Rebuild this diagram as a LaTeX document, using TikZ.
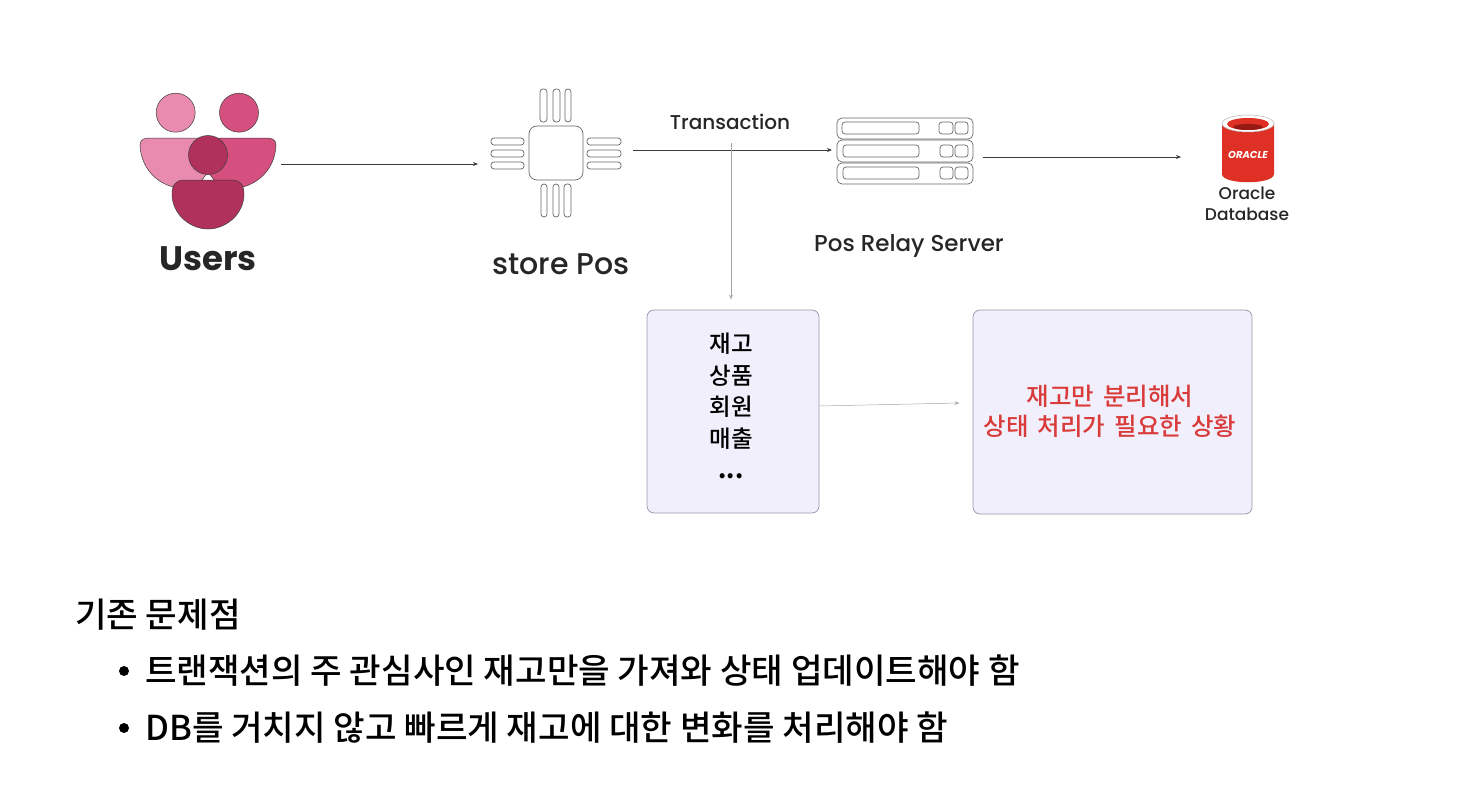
\documentclass[tikz,border=0pt]{standalone}
\usepackage{fontspec}
\setmainfont{Noto Sans CJK KR Medium}
\newfontfamily\handfont{Poppins Medium}
\newfontfamily\handbold{Poppins}
\usetikzlibrary{positioning,arrows.meta}
\definecolor{userlight}{RGB}{233,139,174}
\definecolor{usermid}{RGB}{213,80,127}
\definecolor{userdark}{RGB}{176,50,92}
\definecolor{sketch}{RGB}{60,60,60}
\definecolor{oracle}{RGB}{222,48,36}
\definecolor{oracledark}{RGB}{150,25,20}
\definecolor{panel}{RGB}{240,239,251}
\definecolor{panelline}{RGB}{150,150,170}
\definecolor{alert}{RGB}{217,58,58}
\begin{document}
\begin{tikzpicture}[
    x=1pt, y=-1pt,
    icon/.style={inner sep=0pt, outer sep=0pt},
    person/.style={draw=sketch, line width=0.5pt},
    outline/.style={draw=black!60, line width=0.7pt, rounded corners=3pt},
    arrow/.style={-{Stealth[length=5pt,width=4pt]}, line width=0.8pt, color=sketch},
    thinarrow/.style={-{Stealth[length=5pt,width=4pt,open]}, line width=0.5pt, color=gray!70},
    panelbox/.style={draw=panelline, fill=panel, line width=0.7pt, rounded corners=7pt, inner sep=0pt},
    iconlabel/.style={font=\handfont\fontsize{23}{27}\selectfont, color=black!85},
    smalllabel/.style={font=\handfont\fontsize{17}{21}\selectfont, color=black!85, align=center},
    bodytext/.style={anchor=west, inner sep=0pt, font=\fontsize{34.3}{40}\selectfont}
]
    \useasboundingbox (0,0) rectangle (1468,800);

    % Users
    \node[icon, minimum width=146pt, minimum height=146pt] (users) at (208,164) {};
    \draw[person, fill=userlight] (175.7,112.7) circle (19.5);
    \draw[person, fill=usermid] (239,112.7) circle (19.5);
    \draw[person, fill=userlight] (140,145) .. controls (140,139) and (145,138) .. (150,138) -- (200,138) -- (208,172) -- (202,180) .. controls (192,182) and (185,186) .. (173,187) .. controls (155,182) and (141,167) .. (140,145) -- cycle;
    \draw[person, fill=usermid] (276,145) .. controls (276,139) and (271,138) .. (266,138) -- (216,138) -- (208,172) -- (214,180) .. controls (224,182) and (231,186) .. (243,187) .. controls (261,182) and (275,167) .. (276,145) -- cycle;
    \draw[person, fill=userdark] (208,155) circle (19.5);
    \draw[person, fill=userdark] (172,194) .. controls (172,185) and (176,180) .. (184,180) -- (232,180) .. controls (240,180) and (244,185) .. (244,194) .. controls (244,214) and (226,229) .. (208,229) .. controls (190,229) and (172,214) .. (172,194) -- cycle;
    \node[iconlabel, font=\handbold\bfseries\fontsize{34}{38}\selectfont] (userslabel) at (208,259) {Users};

    % store Pos
    \node[icon, minimum width=155pt, minimum height=130pt] (pos) at (555.5,150) {};
    \draw[outline, rounded corners=8pt] (529,126) rectangle (583,180);
    \draw[outline] (540,89) rectangle (547,122);
    \draw[outline] (553,89) rectangle (560,122);
    \draw[outline] (565,89) rectangle (571,122);
    \draw[outline] (541,184) rectangle (547,217);
    \draw[outline] (553,184) rectangle (559,217);
    \draw[outline] (564,184) rectangle (571,217);
    \draw[outline] (491,138) rectangle (524,145);
    \draw[outline] (491,150) rectangle (524,157);
    \draw[outline] (491,162) rectangle (524,169);
    \draw[outline] (587,138) rectangle (621,145);
    \draw[outline] (587,150) rectangle (621,157);
    \draw[outline] (587,162) rectangle (621,169);
    \node[iconlabel, font=\handfont\fontsize{30}{34}\selectfont] (poslabel) at (561,264) {store Pos};

    % Pos Relay Server
    \node[icon, minimum width=151pt, minimum height=66pt] (relay) at (907.5,150) {};
    \draw[outline, rounded corners=5pt] (837,118) rectangle (973,139);
    \draw[outline, rounded corners=5pt] (837,140) rectangle (973,162);
    \draw[outline, rounded corners=5pt] (837,163) rectangle (973,184);
    \draw[outline] (842,122) rectangle (919,134);
    \draw[outline] (939,122) rectangle (953,134);
    \draw[outline] (955,122) rectangle (968,134);
    \draw[outline] (843,145) rectangle (919,157);
    \draw[outline] (940,145) rectangle (953,157);
    \draw[outline] (955,145) rectangle (968,157);
    \draw[outline] (843,167) rectangle (919,179);
    \draw[outline] (940,167) rectangle (953,179);
    \draw[outline] (955,167) rectangle (968,179);
    \node[iconlabel] (relaylabel) at (909,246) {Pos Relay Server};

    % Oracle
    \node[icon, minimum width=134pt, minimum height=70pt] (oracle) at (1248,157) {};
    \fill[oracle] (1222,123) -- (1222,174) .. controls (1222,185) and (1274,185) .. (1274,174) -- (1274,123) -- cycle;
    \draw[draw=white!70!black, fill=white, line width=0.5pt] (1248,123.5) ellipse (26 and 8.5);
    \fill[oracle] (1248,124) ellipse (21 and 6);
    \fill[oracledark] (1248,127) ellipse (15 and 3);
    \node[font=\handbold\itshape\bfseries\fontsize{10}{11}\selectfont, color=white] (oraclemark) at (1248,155) {ORACLE};
    \node[smalllabel] (oraclelabel) at (1247,203.5) {Oracle\\Database};

    % Transaction
    \node[smalllabel, font=\handfont\fontsize{20}{24}\selectfont] (txn) at (730,122) {Transaction};
    \coordinate (txnstart) at (731,143);

    % Panels
    \node[panelbox, minimum width=172pt, minimum height=203pt] (stock) at (733,411.5) {};
    \node[align=center, font=\fontsize{23.5}{31.6}\selectfont] (stocktext) at (731,406) {재고\\상품\\회원\\매출\\\textbf{...}};
    \node[panelbox, minimum width=279pt, minimum height=204pt] (state) at (1112.5,412) {};
    \node[align=center, text=alert, font={\fontsize{24.5}{30}\selectfont\spaceskip 9.2pt\relax}] (statetext) at (1110,411) {재고만 분리해서\\상태 처리가 필요한 상황};

    % Arrows
    \draw[arrow] (users.east) -- (users.east -| pos.west);
    \draw[arrow] (pos.east) -- (relay.west);
    \draw[arrow] ([yshift=-7pt]relay.east) -- ([yshift=-7pt]relay.east -| oracle.west);
    \draw[thinarrow] (txnstart) -- ([yshift=10pt]txnstart |- stock.north);
    \draw[thinarrow] ([yshift=5.5pt]stock.east) -- ([xshift=-13pt,yshift=9pt]state.west);

    % Problem list
    \node[bodytext] (problem) at (75,615) {기존 문제점};
    \node[icon, circle, fill=black, minimum size=10pt] (bulletone) at (124,671) {};
    \node[bodytext, right=16pt of bulletone] (itemone) {트랜잭션의 주 관심사인 재고만을 가져와 상태 업데이트해야 함};
    \node[icon, circle, fill=black, minimum size=10pt] (bullettwo) at (124,728) {};
    \node[bodytext, right=16pt of bullettwo] (itemtwo) {DB를 거치지 않고 빠르게 재고에 대한 변화를 처리해야 함};
\end{tikzpicture}
\end{document}
